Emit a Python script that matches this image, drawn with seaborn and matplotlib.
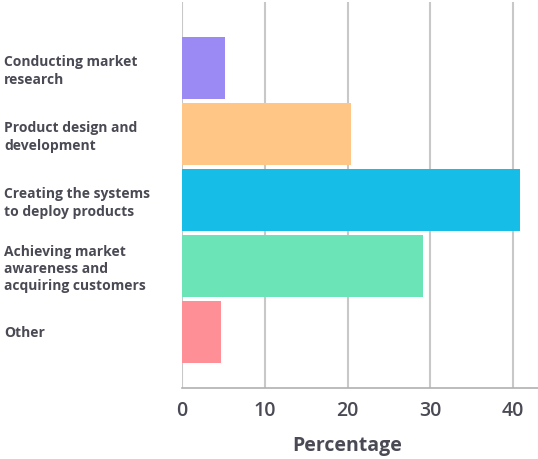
import matplotlib
matplotlib.use("Agg")
import matplotlib.pyplot as plt
import pandas as pd
import seaborn as sns

categories = [
    "Conducting market\nresearch",
    "Product design and\ndevelopment",
    "Creating the systems\nto deploy products",
    "Achieving market\nawareness and\nacquiring customers",
    "Other",
]
percentages = [5.2, 20.4, 40.8, 29.1, 4.7]
bar_colors = ["#9b8af4", "#ffc686", "#15bde7", "#6be5b7", "#ff8f97"]
x_ticks = [0, 10, 20, 30, 40]

text_color = "#4a4a55"

sns.set_style("white")
plt.rcParams["font.family"] = ["Open Sans", "DejaVu Sans"]

df = pd.DataFrame({"category": categories, "pct": percentages})

fig = plt.figure(figsize=(5.38, 4.59), dpi=100)
ax = fig.add_axes([182 / 538, 1 - 388 / 459, 356 / 538, 386 / 459])

sns.barplot(data=df, y="category", x="pct", hue="category", palette=bar_colors,
            legend=False, width=0.94, saturation=1, linewidth=0, ax=ax, zorder=3)

ax.set_xlim(0, 43)
ax.set_ylim(4.85, -1.0)
ax.set_xticks(x_ticks)
ax.xaxis.grid(True, color="#c8c8c8", linewidth=1.5, zorder=0)
ax.set_axisbelow(True)

for side in ["top", "right", "left"]:
    ax.spines[side].set_visible(False)
ax.spines["bottom"].set_color("#b0b0b0")
ax.spines["bottom"].set_linewidth(1.2)

ax.tick_params(axis="x", length=0, pad=9, labelsize=14, labelcolor=text_color)
ax.tick_params(axis="y", length=0, pad=128)
for lbl in ax.get_yticklabels():
    lbl.set_horizontalalignment("left")
    lbl.set_fontsize(10)
    lbl.set_fontweight("bold")
    lbl.set_color(text_color)
    lbl.set_linespacing(1.3)
for lbl in ax.get_xticklabels():
    lbl.set_fontweight("semibold")

ax.set_ylabel("")
ax.set_xlabel("Percentage", fontsize=14, fontweight="bold", color=text_color)
ax.xaxis.set_label_coords(0.463, -0.125)

fig.savefig("out.png", dpi=100)
